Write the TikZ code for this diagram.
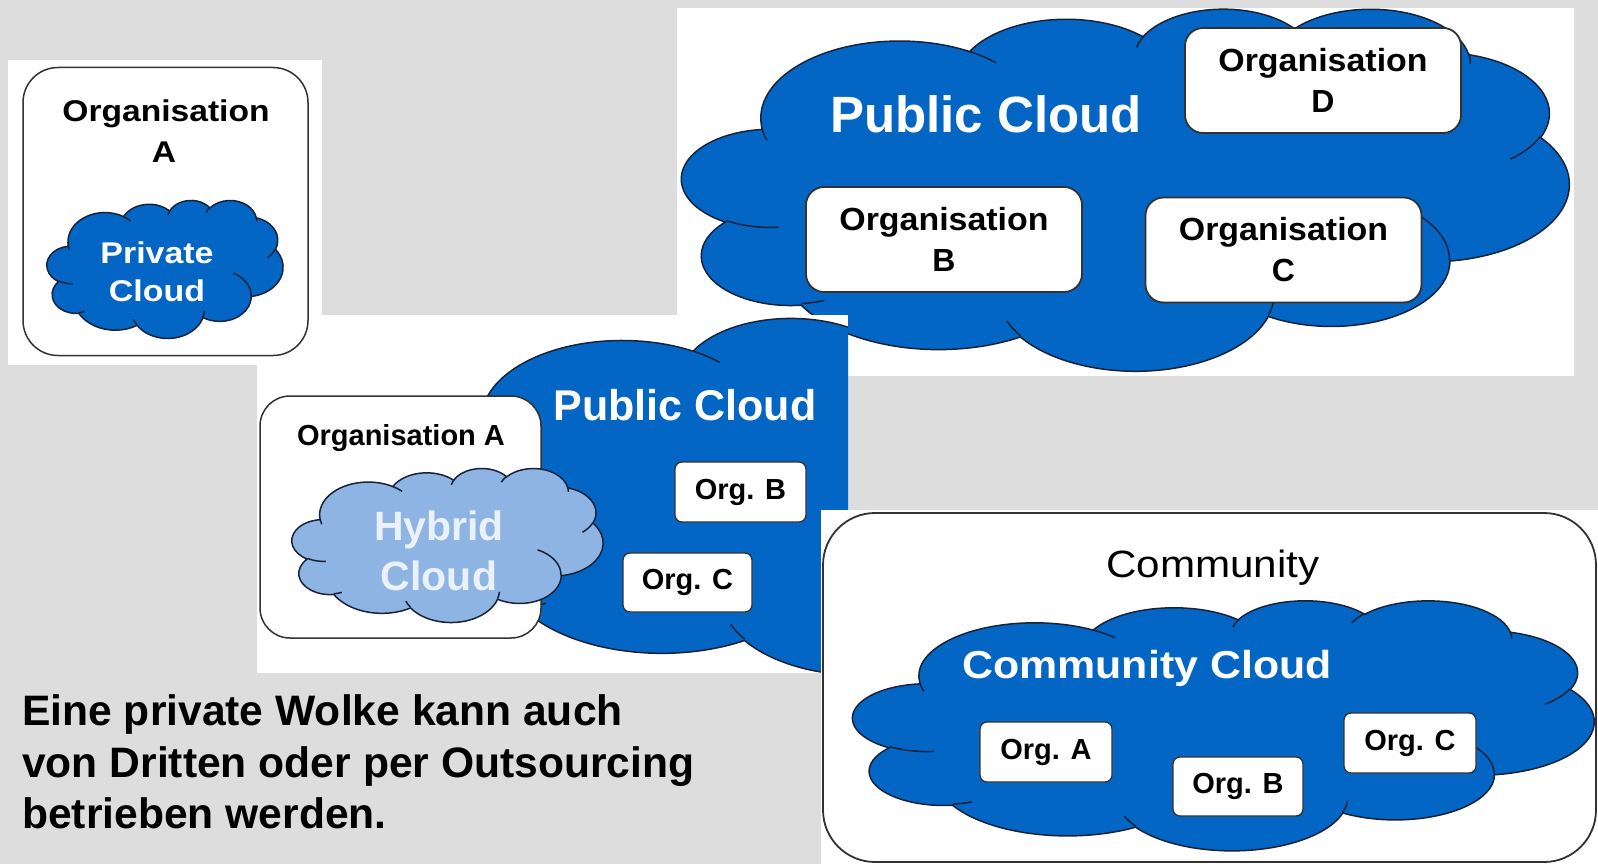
\documentclass[tikz,border=0pt]{standalone}
\usepackage{tikz}
\usepackage{graphicx}
\usepackage{fontspec}
\setmainfont{Liberation Sans}
\definecolor{bgc}{RGB}{221,221,221}
\definecolor{cblue}{RGB}{3,101,196}
\definecolor{clight}{RGB}{141,180,226}
\definecolor{cedge}{RGB}{25,35,55}
\definecolor{htext}{RGB}{234,241,250}
\definecolor{boxedge}{RGB}{50,50,50}

% ---- PowerPoint-like cloud outline, unit box 4320 x 4320 ----
\newcommand\mkarc[4]{%
  \pgfmathsetmacro\clA{atan2((#1)*sin(#3),(#2)*cos(#3))}%
  \pgfmathsetmacro\clB{atan2((#1)*sin((#3)+(#4)),(#2)*cos((#3)+(#4)))}%
  \pgfmathsetmacro\clD{\clB-\clA}%
  \pgfmathsetmacro\clC{\clA+(\clD)-360*floor((\clD)/360)}%
  \xdef\arcTmp{arc[start angle=\clA, end angle=\clC, x radius=#1pt, y radius=#2pt]}}
\newcommand\addcloud[4]{\mkarc{#1}{#2}{#3}{#4}\xdef\cloudP{\cloudP\arcTmp}}
\newcommand\addcrease[6]{\mkarc{#3}{#4}{#5}{#6}\xdef\creaseP{\creaseP(#1pt,#2pt)\arcTmp}}
\xdef\cloudP{(390pt,1437pt)}
\xdef\creaseP{}
\addcloud{675.3}{919.0}{-190.4875}{123.7805}
\addcloud{533.3}{726.7}{-144.1024}{89.9452}
\addcloud{436.5}{594.5}{-145.8079}{99.7230}
\addcloud{485.7}{659.5}{-130.9861}{117.2417}
\addcloud{533.3}{727.3}{-78.7089}{109.0269}
\addcloud{677.5}{922.0}{-46.2673}{130.2690}
\addcloud{578.5}{786.7}{0.6250}{114.0333}
\addcloud{675.2}{921.5}{22.4516}{115.1726}
\addcloud{772.0}{1054.3}{66.2426}{75.7110}
\addcloud{436.0}{591.8}{-274.9421}{146.7356}
\addcloud{434.5}{594.5}{-246.8285}{152.5189}
\addcrease{469.3}{2617.7}{434.5}{594.5}{86.7420}{26.4295}
\addcrease{692.8}{3489.9}{436.0}{591.8}{73.6105}{11.4475}
\addcrease{1647.8}{3909.0}{675.2}{921.5}{137.6242}{14.0811}
\addcrease{2882.7}{3475.1}{675.2}{921.5}{6.4533}{15.9984}
\addcrease{3412.9}{2295.4}{578.5}{786.7}{-70.2924}{70.9174}
\addcrease{4179.8}{1535.4}{533.3}{727.3}{30.3180}{27.7515}
\addcrease{3832.4}{542.6}{485.7}{659.5}{-13.7443}{14.8589}
\addcrease{2907.8}{395.2}{485.7}{659.5}{-149.1815}{18.1954}
\addcrease{2214.1}{472.0}{436.5}{594.5}{-163.4943}{17.6864}
\addcrease{1400.0}{519.2}{675.3}{919.0}{-66.7070}{12.3194}
\addcrease{412.7}{1578.9}{675.3}{919.0}{157.6544}{11.8582}

\newcommand\cloudshape[5]{%
  \begin{scope}[shift={(#1,#2)}, xscale=#3/4320, yscale=-#4/4320]
    \filldraw[fill=#5, draw=cedge, line width=1.5pt] \cloudP -- cycle;
    \draw[cedge, line width=1.5pt] \creaseP;
  \end{scope}}
\newcommand\fsb[1]{\fontsize{#1}{#1}\selectfont\bfseries}

\tikzset{
  lbl/.style={inner sep=0pt, anchor=base},
  bigbox/.style={draw=boxedge, line width=1.8pt, fill=white, rounded corners=18pt,
    minimum width=276pt, minimum height=105pt, inner sep=0pt, align=center,
    font=\fontsize{32}{41}\selectfont\bfseries},
  smallbox/.style={draw=boxedge, line width=1.3pt, fill=white, rounded corners=7pt,
    minimum width=131pt, minimum height=60pt, inner sep=0pt, font=\fsb{29}},
  orgframe/.style={draw=boxedge, line width=1.5pt, fill=white, inner sep=0pt},
}

\begin{document}
\begin{tikzpicture}[x=1pt, y=-1pt]
\useasboundingbox (0,0) rectangle (1598,864);
\fill[bgc] (0,0) rectangle (1598,864);

% ---------- big public cloud panel ----------
\fill[white] (677,8) rectangle (1574,376);
\cloudshape{682}{8}{887}{362}{cblue}
\node[lbl, text=white, font=\fsb{51}] (pubBig) at (986,133) {Public Cloud};
\node[bigbox] (orgD) at (1323,80.5) {\scalebox{1.06}[1]{Organisation}\\D};
\node[bigbox] (orgBbig) at (944,239.5) {\scalebox{1.06}[1]{Organisation}\\B};
\node[bigbox] (orgCbig) at (1283.5,250) {\scalebox{1.06}[1]{Organisation}\\C};

% ---------- hybrid panel ----------
\fill[white] (257,315) rectangle (848,673);
\begin{scope}
  \clip (257,315) rectangle (848,673);
  \cloudshape{402}{307}{898}{367}{cblue}
\end{scope}
\node[orgframe, rounded corners=30pt, minimum width=281pt, minimum height=242pt] (orgAh) at (400.5,517) {};
\cloudshape{292}{468}{311}{154}{clight}
\node[lbl, font=\fsb{29}] (orgAhT) at (401,445) {Organisation A};
\node[lbl, text=white, font=\fsb{43}] (pubH) at (685,420) {Public Cloud};
\node[lbl, text=htext, font=\fsb{41}] (hyb1) at (439,540) {Hybrid};
\node[lbl, text=htext, font=\fsb{41}] (hyb2) at (439,590) {Cloud};
\node[smallbox] (orgBh) at (740.5,492) {Org. B};
\node[smallbox, minimum width=129pt, minimum height=59pt] (orgCh) at (687.5,582.5) {Org. C};

% ---------- private panel ----------
\fill[white] (8,60) rectangle (322,365);
\node[orgframe, rounded corners=35pt, minimum width=285pt, minimum height=288pt] (orgAp) at (165.5,211.5) {};
\node[lbl, font=\fsb{30}] (orgApT1) at (166,122) {\scalebox{1.12}[1]{Organisation}};
\node[lbl, font=\fsb{30}] (orgApT2) at (164,163) {\scalebox{1.12}[1]{A}};
\cloudshape{47}{200}{236}{138}{cblue}
\node[lbl, text=white, font=\fsb{30}] (priv1) at (157,263) {\scalebox{1.13}[1]{Private}};
\node[lbl, text=white, font=\fsb{30}] (priv2) at (157,301) {\scalebox{1.13}[1]{Cloud}};

% ---------- community panel ----------
\fill[white] (821,510) rectangle (1598,864);
\node[orgframe, line width=1.8pt, rounded corners=52pt, minimum width=773pt, minimum height=349pt] (comm) at (1209.5,687.5) {};
\node[lbl, font=\fontsize{38}{38}\selectfont] (commT) at (1213,577) {\scalebox{1.11}[1]{Community}};
\cloudshape{853}{600}{741}{250}{cblue}
\node[lbl, text=white, font=\fsb{39}] (commC) at (1147,678) {\scalebox{1.1}[1]{Community Cloud}};
\node[smallbox, minimum width=132pt] (cA) at (1046,752) {Org. A};
\node[smallbox, minimum width=130pt, minimum height=59pt] (cB) at (1238,786.5) {Org. B};
\node[smallbox, minimum width=132pt] (cC) at (1410,743) {Org. C};

% ---------- caption ----------
\node[lbl, anchor=base west, font=\fsb{42.6}] (t1) at (22,725) {Eine private Wolke kann auch};
\node[lbl, anchor=base west, font=\fsb{42.6}] (t2) at (22,777) {von Dritten oder per Outsourcing};
\node[lbl, anchor=base west, font=\fsb{42.6}] (t3) at (22,828) {betrieben werden.};
\end{tikzpicture}
\end{document}
